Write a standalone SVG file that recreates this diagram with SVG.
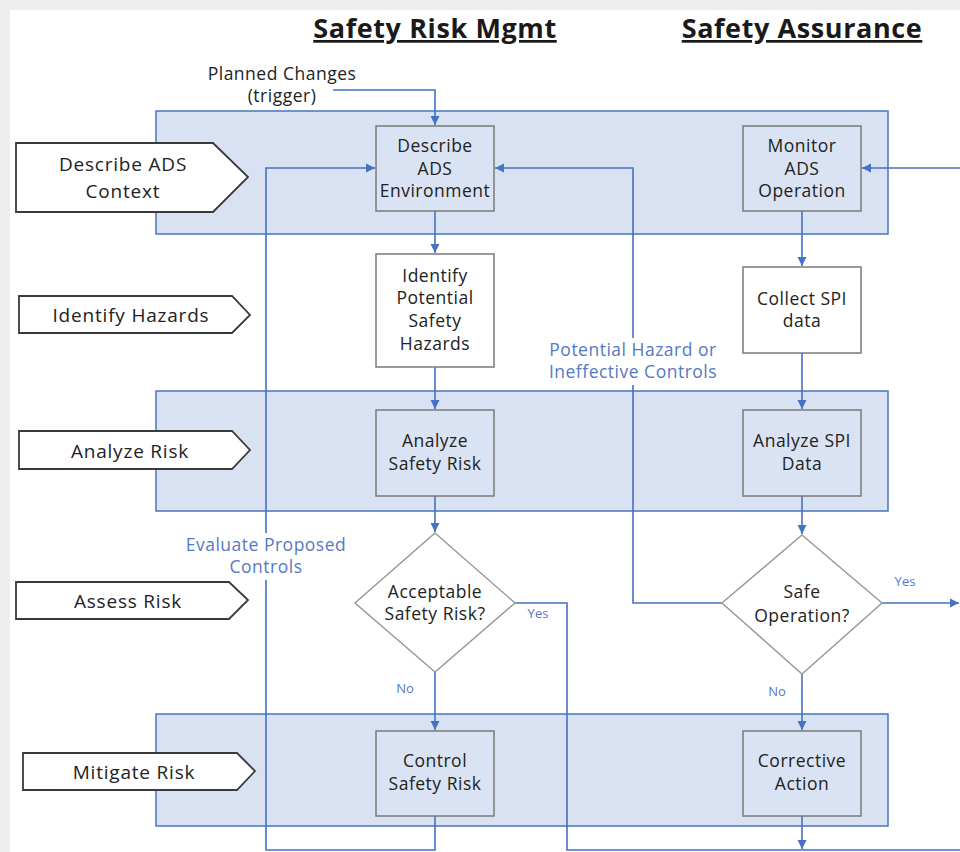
<svg xmlns="http://www.w3.org/2000/svg" width="960" height="852" viewBox="0 0 960 852">
<defs>
<marker id="ah" markerWidth="10" markerHeight="10" refX="9" refY="5" orient="auto" markerUnits="userSpaceOnUse">
<path d="M0,0.5 L9,5 L0,9.5 Z" fill="#4472c4"/>
</marker>
</defs>
<style>
.band{fill:#d9e2f2;stroke:#4a74c0;stroke-width:1.5}
.box{fill:#dae3f3;stroke:#7a7a7a;stroke-width:1.5}
.wbox{fill:#ffffff;stroke:#7a7a7a;stroke-width:1.5}
.chev{fill:#ffffff;stroke:#3a3a3a;stroke-width:1.8}
.dia{fill:#ffffff;stroke:#9a9a9a;stroke-width:1.5}
.t{font-family:"Open Sans","Noto Sans",sans-serif;font-size:17.5px;fill:#222222;text-anchor:middle;letter-spacing:0.5px}
.ct{font-family:"Open Sans","Noto Sans",sans-serif;font-size:19px;fill:#222222;text-anchor:middle;letter-spacing:0.8px}
.bl{font-family:"Open Sans","Noto Sans",sans-serif;font-size:17.5px;fill:#5579c6;text-anchor:middle;letter-spacing:0.5px}
.sm{font-family:"Open Sans","Noto Sans",sans-serif;font-size:13px;fill:#5579c6;text-anchor:middle}
.ttl{font-family:"Open Sans","Noto Sans",sans-serif;font-size:27px;font-weight:bold;fill:#1a1a1a;text-anchor:middle;text-decoration:underline;letter-spacing:0.6px}
.c{fill:none;stroke:#4472c4;stroke-width:1.6}
</style>
<rect x="0" y="0" width="960" height="852" fill="#eeeeee"/>
<rect x="10" y="10" width="950" height="842" fill="#ffffff"/>

<text class="ttl" x="435" y="38">Safety Risk Mgmt</text>
<text class="ttl" x="802" y="38">Safety Assurance</text>

<g id="band1"><rect class="band" x="156" y="111" width="732" height="123"/></g>
<g id="band2"><rect class="band" x="156" y="391" width="732" height="120"/></g>
<g id="band3"><rect class="band" x="156" y="714" width="732" height="112"/></g>

<g id="connectors">
<path class="c" d="M333,90 H435 V125" marker-end="url(#ah)"/>
<path class="c" d="M435,211 V253" marker-end="url(#ah)"/>
<path class="c" d="M435,367 V409" marker-end="url(#ah)"/>
<path class="c" d="M435,496 V532" marker-end="url(#ah)"/>
<path class="c" d="M435,672 V730" marker-end="url(#ah)"/>
<path class="c" d="M515,603 H567 V850 H960"/>
<path class="c" d="M435,816 V850 H266 V168 H375" marker-end="url(#ah)"/>
<path class="c" d="M722,603 H633 V168 H495" marker-end="url(#ah)"/>
<path class="c" d="M882,603 H959" marker-end="url(#ah)"/>
<path class="c" d="M960,168 H862" marker-end="url(#ah)"/>
<path class="c" d="M802,211 V266" marker-end="url(#ah)"/>
<path class="c" d="M802,353 V409" marker-end="url(#ah)"/>
<path class="c" d="M802,496 V534" marker-end="url(#ah)"/>
<path class="c" d="M802,674 V730" marker-end="url(#ah)"/>
<path class="c" d="M802,816 V849" marker-end="url(#ah)"/>
</g>

<g id="lbl-eval">
<rect x="184" y="533" width="164" height="47" fill="#ffffff"/>
<text class="bl" x="266" y="551">Evaluate Proposed</text>
<text class="bl" x="266" y="573">Controls</text>
</g>
<g id="lbl-pot">
<rect x="547" y="338" width="174" height="47" fill="#ffffff"/>
<text class="bl" x="633" y="356">Potential Hazard or</text>
<text class="bl" x="633" y="378">Ineffective Controls</text>
</g>
<g id="lbl-planned">
<text class="t" x="282" y="80">Planned Changes</text>
<text class="t" x="282" y="102">(trigger)</text>
</g>
<text class="sm" x="538" y="618">Yes</text>
<text class="sm" x="405" y="693">No</text>
<text class="sm" x="905" y="586">Yes</text>
<text class="sm" x="777" y="696">No</text>

<g id="chev-context">
<path class="chev" d="M16,143 H213 L248,177 L213,212 H16 Z"/>
<text class="ct" x="123" y="171">Describe ADS</text>
<text class="ct" x="123" y="198">Context</text>
</g>
<g id="chev-identify">
<path class="chev" d="M19,296 H232 L250,315 L232,333 H19 Z"/>
<text class="ct" x="131" y="322">Identify Hazards</text>
</g>
<g id="chev-analyze">
<path class="chev" d="M19,431 H232 L250,450 L232,469 H19 Z"/>
<text class="ct" x="130" y="458">Analyze Risk</text>
</g>
<g id="chev-assess">
<path class="chev" d="M16,582 H229 L248,600 L229,619 H16 Z"/>
<text class="ct" x="128" y="608">Assess Risk</text>
</g>
<g id="chev-mitigate">
<path class="chev" d="M23,753 H237 L255,771 L237,790 H23 Z"/>
<text class="ct" x="134" y="779">Mitigate Risk</text>
</g>

<g id="describe-env">
<rect class="box" x="376" y="126" width="118" height="85"/>
<text class="t" x="435" y="152">Describe</text>
<text class="t" x="435" y="175">ADS</text>
<text class="t" x="435" y="197">Environment</text>
</g>
<g id="monitor">
<rect class="box" x="743" y="126" width="118" height="85"/>
<text class="t" x="802" y="152">Monitor</text>
<text class="t" x="802" y="175">ADS</text>
<text class="t" x="802" y="197">Operation</text>
</g>
<g id="identify">
<rect class="wbox" x="376" y="254" width="118" height="113"/>
<text class="t" x="435" y="282">Identify</text>
<text class="t" x="435" y="304">Potential</text>
<text class="t" x="435" y="327">Safety</text>
<text class="t" x="435" y="350">Hazards</text>
</g>
<g id="collect">
<rect class="wbox" x="743" y="267" width="118" height="86"/>
<text class="t" x="802" y="305">Collect SPI</text>
<text class="t" x="802" y="327">data</text>
</g>
<g id="analyze-risk">
<rect class="box" x="376" y="410" width="118" height="86"/>
<text class="t" x="435" y="447">Analyze</text>
<text class="t" x="435" y="470">Safety Risk</text>
</g>
<g id="analyze-spi">
<rect class="box" x="743" y="410" width="118" height="86"/>
<text class="t" x="802" y="447">Analyze SPI</text>
<text class="t" x="802" y="470">Data</text>
</g>
<g id="acceptable">
<path class="dia" d="M435,533 L515,603 L435,672 L355,603 Z"/>
<text class="t" x="435" y="598">Acceptable</text>
<text class="t" x="435" y="620">Safety Risk?</text>
</g>
<g id="safe-op">
<path class="dia" d="M802,535 L882,603 L802,674 L722,603 Z"/>
<text class="t" x="802" y="598">Safe</text>
<text class="t" x="802" y="622">Operation?</text>
</g>
<g id="control">
<rect class="box" x="376" y="731" width="118" height="85"/>
<text class="t" x="435" y="767">Control</text>
<text class="t" x="435" y="790">Safety Risk</text>
</g>
<g id="corrective">
<rect class="box" x="743" y="731" width="118" height="85"/>
<text class="t" x="802" y="767">Corrective</text>
<text class="t" x="802" y="790">Action</text>
</g>
</svg>
